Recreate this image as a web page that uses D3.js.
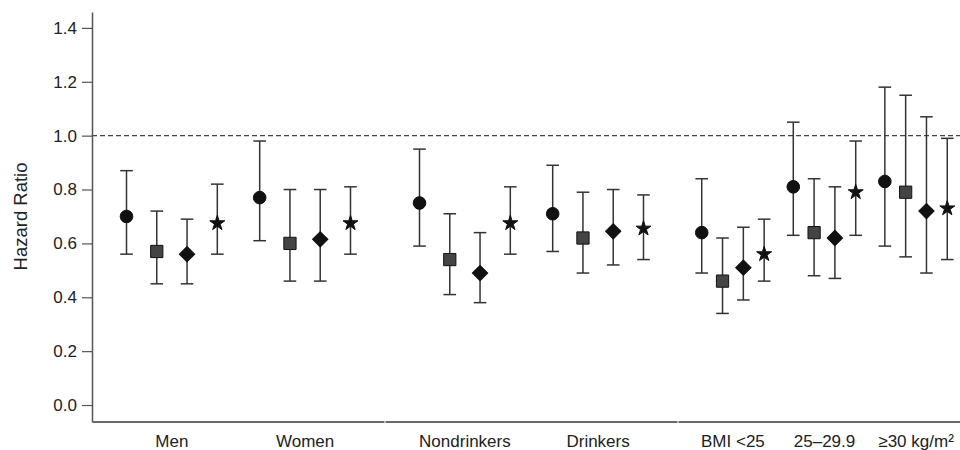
<!DOCTYPE html>
<html>
<head>
<meta charset="utf-8">
<script src="https://cdn.jsdelivr.net/npm/d3@7"></script>
<style>
  body { margin: 0; background: #fff; }
  #wrapper { width: 960px; height: 450px; overflow: hidden; }
  text { font-family: "Liberation Sans", Arial, sans-serif; fill: #222; }
</style>
</head>
<body>
<div id="wrapper"></div>
<script>
// data
const sections = ["Sex", "Alcohol", "BMI"];
const groups = ["Men", "Women", "Nondrinkers", "Drinkers", "BMI <25", "25–29.9", "≥30 kg/m²"];
const groupSection = ["Sex", "Sex", "Alcohol", "Alcohol", "BMI", "BMI", "BMI"];
const models = ["circle", "square", "diamond", "star"];

const circleHR = [0.70, 0.77, 0.75, 0.71, 0.64, 0.81, 0.83];
const circleLo = [0.56, 0.61, 0.59, 0.57, 0.49, 0.63, 0.59];
const circleHi = [0.87, 0.98, 0.95, 0.89, 0.84, 1.05, 1.18];

const squareHR = [0.57, 0.60, 0.54, 0.62, 0.46, 0.64, 0.79];
const squareLo = [0.45, 0.46, 0.41, 0.49, 0.34, 0.48, 0.55];
const squareHi = [0.72, 0.80, 0.71, 0.79, 0.62, 0.84, 1.15];

const diamondHR = [0.56, 0.615, 0.49, 0.645, 0.51, 0.62, 0.72];
const diamondLo = [0.45, 0.46, 0.38, 0.52, 0.39, 0.47, 0.49];
const diamondHi = [0.69, 0.80, 0.64, 0.80, 0.66, 0.81, 1.07];

const starHR = [0.675, 0.675, 0.675, 0.655, 0.56, 0.79, 0.73];
const starLo = [0.56, 0.56, 0.56, 0.54, 0.46, 0.63, 0.54];
const starHi = [0.82, 0.81, 0.81, 0.78, 0.69, 0.98, 0.99];

const yTicks = [0, 0.2, 0.4, 0.6, 0.8, 1.0, 1.2, 1.4];
const refLine = 1.0;

function drawChart() {
    // 1. Build rows

    const series = {
        circle: [circleHR, circleLo, circleHi],
        square: [squareHR, squareLo, squareHi],
        diamond: [diamondHR, diamondLo, diamondHi],
        star: [starHR, starLo, starHi]
    };
    const data = [];
    groups.forEach((g, i) => {
        models.forEach(m => {
            data.push({
                group: g,
                section: groupSection[i],
                model: m,
                hr: series[m][0][i],
                lo: series[m][1][i],
                hi: series[m][2][i]
            });
        });
    });

    // 2. Dimensions

    const dimensions = {
        width: 960,
        height: 450,
        margin: {
            top: 12,
            right: -11, // last section runs past the edge, cut off like the original
            bottom: 28,
            left: 92
        }
    };
    dimensions.boundedWidth = dimensions.width
        - dimensions.margin.left
        - dimensions.margin.right;
    dimensions.boundedHeight = dimensions.height
        - dimensions.margin.top
        - dimensions.margin.bottom;

    // 3. Canvas

    const wrapper = d3.select("#wrapper")
        .append("svg")
        .attr("width", dimensions.width)
        .attr("height", dimensions.height);

    const bounds = wrapper.append("g")
        .attr("transform", `translate(${dimensions.margin.left},${dimensions.margin.top})`);

    // 4. Scales

    const yScale = d3.scaleLinear()
        .domain([-0.063, 1.459])
        .range([dimensions.boundedHeight, 0]);

    const sectionScale = d3.scaleBand()
        .domain(sections)
        .range([0, dimensions.boundedWidth]);

    const groupScales = {};
    sections.forEach(s => {
        const x0 = sectionScale(s);
        groupScales[s] = d3.scaleBand()
            .domain(groups.filter((g, i) => groupSection[i] === s))
            .range([x0, x0 + sectionScale.bandwidth()])
            .paddingInner(0)
            .paddingOuter(0.1);
    });

    const groupX = d => groupScales[d.section](d.group);
    const groupCenter = (g, s) => groupScales[s](g) + groupScales[s].bandwidth() / 2;

    const modelScale = s => d3.scalePoint()
        .domain(models)
        .range([0, groupScales[s].bandwidth()])
        .padding(0.7);

    const xAccessor = d => groupX(d) + modelScale(d.section)(d.model);

    // 5. Reference line and axes

    bounds.append("line")
        .attr("x1", 0)
        .attr("x2", dimensions.boundedWidth)
        .attr("y1", yScale(refLine))
        .attr("y2", yScale(refLine))
        .attr("stroke", "#444")
        .attr("stroke-width", 1.2)
        .attr("stroke-dasharray", "5,3");

    const yAxisGenerator = d3.axisLeft()
        .scale(yScale)
        .tickValues(yTicks)
        .tickFormat(d3.format(".1f"))
        .tickSize(10)
        .tickSizeOuter(0)
        .tickPadding(5);

    const yAxis = bounds.append("g")
        .call(yAxisGenerator);
    yAxis.select(".domain").attr("stroke", "#555").attr("stroke-width", 1.5);
    yAxis.selectAll(".tick line").attr("stroke", "#555").attr("stroke-width", 1.2);
    yAxis.selectAll(".tick text")
        .style("font-size", "17px")
        .style("fill", "#222")
        .attr("font-family", null);

    bounds.append("text")
        .attr("transform", `translate(${-dimensions.margin.left + 20},${yScale(0.7)}) rotate(-90)`)
        .attr("text-anchor", "middle")
        .attr("dominant-baseline", "central")
        .style("font-size", "18.5px")
        .text("Hazard Ratio");

    // x axis: one segment per section with a small gap between them
    bounds.append("g")
        .selectAll("line")
        .data(sections)
        .join("line")
        .attr("x1", s => sectionScale(s) + 0.5)
        .attr("x2", s => sectionScale(s) + sectionScale.bandwidth() - 0.5)
        .attr("y1", dimensions.boundedHeight)
        .attr("y2", dimensions.boundedHeight)
        .attr("stroke", "#6a6a6a")
        .attr("stroke-width", 1.8);

    bounds.append("g")
        .selectAll("text")
        .data(groups)
        .join("text")
        .attr("x", (g, i) => groupCenter(g, groupSection[i]))
        .attr("y", dimensions.boundedHeight + 25)
        .attr("text-anchor", "middle")
        .style("font-size", "17px")
        .text(g => g);

    // 6. Error bars

    const capHalf = 6.3;
    const bars = bounds.append("g")
        .attr("stroke", "#333")
        .attr("stroke-width", 1.5);

    bars.selectAll(".stem")
        .data(data)
        .join("line")
        .attr("class", "stem")
        .attr("x1", xAccessor)
        .attr("x2", xAccessor)
        .attr("y1", d => yScale(d.lo))
        .attr("y2", d => yScale(d.hi));

    ["lo", "hi"].forEach(k => {
        bars.selectAll(".cap-" + k)
            .data(data)
            .join("line")
            .attr("class", "cap-" + k)
            .attr("x1", d => xAccessor(d) - capHalf)
            .attr("x2", d => xAccessor(d) + capHalf)
            .attr("y1", d => yScale(d[k]))
            .attr("y2", d => yScale(d[k]));
    });

    // 7. Markers

    const symbols = {
        circle: { type: d3.symbolCircle, size: 125, fill: "#111", rotate: 0 },
        square: { type: d3.symbolSquare, size: 150, fill: "#444", rotate: 0 },
        diamond: { type: d3.symbolSquare, size: 118, fill: "#111", rotate: 45 },
        star: { type: d3.symbolStar, size: 70, fill: "#111", rotate: 0 }
    };

    bounds.append("g")
        .selectAll("path")
        .data(data)
        .join("path")
        .attr("d", d => d3.symbol(symbols[d.model].type, symbols[d.model].size)())
        .attr("transform", d => `translate(${xAccessor(d)},${yScale(d.hr)}) rotate(${symbols[d.model].rotate})`)
        .attr("fill", d => symbols[d.model].fill)
        .attr("stroke", "#111")
        .attr("stroke-width", 1);
}

drawChart();
</script>
</body>
</html>
